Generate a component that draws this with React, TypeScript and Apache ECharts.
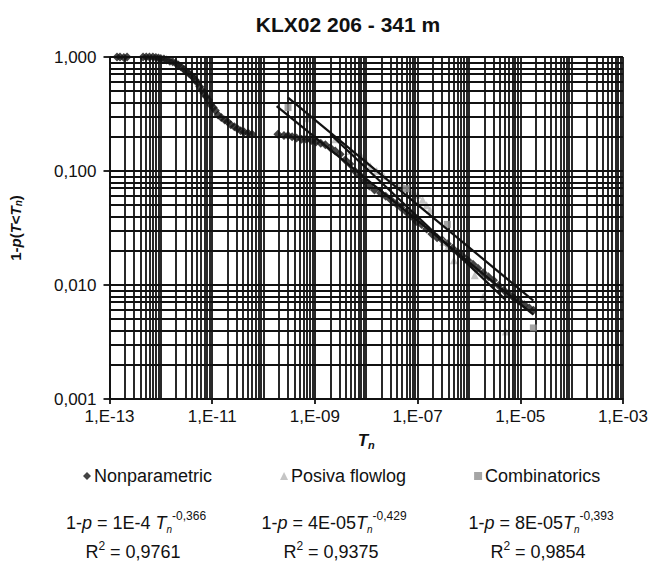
import React, { useEffect, useRef } from 'react';
import * as echarts from 'echarts';

const FONT = '"Liberation Sans", Arial, Helvetica, sans-serif';

// Axis ranges (exponents of ten)
const xExpMin = -13;
const xExpMax = -3;
const yExpMin = -3;
const yExpMax = 0;

const titleText = 'KLX02 206 - 341 m';

// Nonparametric (black diamonds): [Tn, 1-p]
const nonparametric: [number, number][] = [
  [1.4e-13, 1.0], [1.6e-13, 1.0], [1.9e-13, 0.99], [2.2e-13, 1.0],
  [4.5e-13, 1.0], [5.2e-13, 1.0], [6e-13, 1.0], [7e-13, 1.0], [8e-13, 0.99], [9e-13, 0.98],
  [1.0e-12, 0.97], [1.15e-12, 0.96], [1.3e-12, 0.94], [1.5e-12, 0.92], [1.7e-12, 0.91],
  [1.95e-12, 0.88], [2.2e-12, 0.85], [2.45e-12, 0.82], [2.8e-12, 0.78], [3.1e-12, 0.75],
  [3.5e-12, 0.72], [3.9e-12, 0.69], [4.3e-12, 0.66], [4.7e-12, 0.63], [5.2e-12, 0.59],
  [5.7e-12, 0.55], [6.3e-12, 0.51], [6.9e-12, 0.48], [7.6e-12, 0.45], [8.5e-12, 0.42],
  [9.4e-12, 0.38], [1.05e-11, 0.36], [1.15e-11, 0.34], [1.3e-11, 0.31], [1.5e-11, 0.295],
  [1.75e-11, 0.28], [2.0e-11, 0.27], [2.3e-11, 0.255], [2.7e-11, 0.245], [3.1e-11, 0.235],
  [3.6e-11, 0.225], [4.2e-11, 0.22], [5e-11, 0.215], [6e-11, 0.21],
  [1.9e-10, 0.21], [2.5e-10, 0.205], [3e-10, 0.205], [3.6e-10, 0.2], [4.4e-10, 0.195],
  [5.5e-10, 0.19], [6.8e-10, 0.19], [8.5e-10, 0.185], [1.05e-9, 0.18], [1.3e-9, 0.175],
  [1.6e-9, 0.17], [2.0e-9, 0.16], [2.5e-9, 0.15], [3.1e-9, 0.14], [3.9e-9, 0.125],
  [4.8e-9, 0.115], [6e-9, 0.1], [7.5e-9, 0.092], [9.3e-9, 0.082], [1.15e-8, 0.074],
  [1.45e-8, 0.068], [1.9e-8, 0.064], [2.4e-8, 0.06], [3e-8, 0.056], [3.8e-8, 0.052],
  [4.7e-8, 0.048], [6e-8, 0.044], [7.5e-8, 0.04], [9.5e-8, 0.036], [1.2e-7, 0.034],
  [1.5e-7, 0.031], [1.9e-7, 0.028], [2.4e-7, 0.026], [3e-7, 0.025], [3.8e-7, 0.023],
  [4.8e-7, 0.021], [6e-7, 0.0195], [7.5e-7, 0.018], [9.5e-7, 0.0165], [1.2e-6, 0.0152],
  [1.5e-6, 0.014], [1.9e-6, 0.0128], [2.4e-6, 0.0118], [3e-6, 0.011], [3.8e-6, 0.0099],
  [4.8e-6, 0.009], [6e-6, 0.0083], [7.5e-6, 0.0077], [9.5e-6, 0.0072], [1.2e-5, 0.0067],
  [1.5e-5, 0.0063], [1.8e-5, 0.006],
];

// Posiva flowlog (light grey triangles)
const posivaFlowlog: [number, number][] = [
  [7.0e-10, 0.29], [2.5e-9, 0.19], [5e-9, 0.15], [8e-9, 0.135], [1.0e-8, 0.12],
  [1.2e-8, 0.11], [1.6e-8, 0.1], [2.2e-8, 0.09], [3.0e-8, 0.083], [4.0e-8, 0.078],
  [5.2e-8, 0.075], [6.5e-8, 0.07], [8e-8, 0.066], [1.0e-7, 0.062], [1.25e-7, 0.056],
  [1.5e-7, 0.05], [1.75e-7, 0.0455], [3.2e-7, 0.024], [3.8e-7, 0.021], [5.1e-7, 0.0165],
  [1.3e-6, 0.0122], [1.9e-6, 0.0079], [5.2e-6, 0.0039],
];

// Combinatorics (mid grey squares)
const combinatorics: [number, number][] = [
  [3.0e-10, 0.36], [6e-8, 0.07], [3.8e-7, 0.034], [1.8e-5, 0.0042],
];

// Power-law trend lines (end points)
const fitNonparametric: [number, number][] = [[1.8e-10, 0.37], [1.8e-5, 0.0055]];
const fitPosiva: [number, number][] = [[2.0e-9, 0.21], [5.2e-6, 0.0074]];
const fitCombinatorics: [number, number][] = [[3.0e-10, 0.44], [1.8e-5, 0.0073]];

const legendNames = ['Nonparametric', 'Posiva flowlog', 'Combinatorics'];

const equations = [
  { exp: '-0,366', coef: '1E-4 ', r2: '0,9761' },
  { exp: '-0,429', coef: '4E-05', r2: '0,9375' },
  { exp: '-0,393', coef: '8E-05', r2: '0,9854' },
];

const toLog = (d: [number, number][]) => d.map(([x, y]) => [Math.log10(x), Math.log10(y)]);

function gridValues(minExp: number, maxExp: number): number[] {
  const out: number[] = [];
  for (let e = minExp; e < maxExp; e++) {
    for (let k = 1; k <= 9; k++) out.push(e + Math.log10(k));
  }
  out.push(maxExp);
  return out;
}

export default function App() {
  const ref = useRef<HTMLDivElement>(null);
  useEffect(() => {
    if (!ref.current) return;
    const chart = echarts.init(ref.current, undefined, { renderer: 'svg' });

    const gridLineStyle = { color: '#111111', width: 1.8, type: 'solid' as const };
    const markData: any[] = [];
    gridValues(xExpMin, xExpMax).forEach((v) => markData.push({ xAxis: v }));
    gridValues(yExpMin, yExpMax).forEach((v) => markData.push({ yAxis: v }));

    const eqCenters = [136, 334, 541];
    const eqGraphics: any[] = [];
    equations.forEach((eq, i) => {
      eqGraphics.push({
        type: 'text',
        x: eqCenters[i],
        y: 523,
        style: {
          text: `{n|1-}{i|p}{n| = ${eq.coef}}{i|T}{sub|n}{sup|${eq.exp}}`,
          align: 'center',
          verticalAlign: 'middle',
          fill: '#111',
          rich: {
            n: { fontFamily: FONT, fontSize: 18, lineHeight: 26, verticalAlign: 'middle' },
            i: { fontFamily: FONT, fontSize: 18, fontStyle: 'italic', lineHeight: 26, verticalAlign: 'middle' },
            sub: { fontFamily: FONT, fontSize: 10, fontStyle: 'italic', lineHeight: 26, verticalAlign: 'bottom', padding: [0, 0, 2, 0] },
            sup: { fontFamily: FONT, fontSize: 12, lineHeight: 26, verticalAlign: 'top' },
          },
        },
      });
      eqGraphics.push({
        type: 'text',
        x: eqCenters[i] - 3,
        y: 552,
        style: {
          text: `{n|R}{sup|2}{n| = ${eq.r2}}`,
          align: 'center',
          verticalAlign: 'middle',
          fill: '#111',
          rich: {
            n: { fontFamily: FONT, fontSize: 18, lineHeight: 24, verticalAlign: 'middle' },
            sup: { fontFamily: FONT, fontSize: 12, lineHeight: 24, verticalAlign: 'top' },
          },
        },
      });
    });

    const option: any = {
      animation: false,
      backgroundColor: '#ffffff',
      textStyle: { fontFamily: FONT },
      grid: { left: 102, right: 23, top: 57, bottom: 173, containLabel: false },
      legend: {
        data: [
          { name: legendNames[0], icon: 'diamond' },
          { name: legendNames[1], icon: 'triangle' },
          { name: legendNames[2], icon: 'rect' },
        ],
        left: 78,
        top: 462,
        itemWidth: 8,
        itemHeight: 8,
        itemGap: 68,
        textStyle: { fontFamily: FONT, fontSize: 18, color: '#111', padding: [0, 0, 0, -2] },
      },
      xAxis: {
        type: 'value',
        min: xExpMin,
        max: xExpMax,
        interval: 2,
        name: '{t|T}{s|n}',
        nameLocation: 'middle',
        nameGap: 32,
        nameTextStyle: {
          rich: {
            t: { fontFamily: FONT, fontSize: 17, fontWeight: 'bold', fontStyle: 'italic', color: '#111' },
            s: { fontFamily: FONT, fontSize: 11, fontWeight: 'bold', fontStyle: 'italic', color: '#111', padding: [8, 0, 0, 0] },
          },
        },
        axisLine: { show: true, onZero: false, lineStyle: { color: '#111', width: 1.8 } },
        axisTick: { show: true, inside: false, length: 5, lineStyle: { color: '#111', width: 1.8 } },
        splitLine: { show: false },
        axisLabel: {
          fontFamily: FONT,
          fontSize: 17,
          color: '#111',
          margin: 9,
          formatter: (v: number) => '1,E' + (v < 0 ? '-' : '+') + String(Math.abs(Math.round(v))).padStart(2, '0'),
        },
      },
      yAxis: {
        type: 'value',
        min: yExpMin,
        max: yExpMax,
        interval: 1,
        name: '{b|1-}{bi|p}{b|(}{bi|T}{b|<}{bi|T}{s|n}{b|)}',
        nameLocation: 'middle',
        nameGap: 86,
        nameRotate: 90,
        nameTextStyle: {
          rich: {
            b: { fontFamily: FONT, fontSize: 15, fontWeight: 'bold', color: '#111' },
            bi: { fontFamily: FONT, fontSize: 15, fontWeight: 'bold', fontStyle: 'italic', color: '#111' },
            s: { fontFamily: FONT, fontSize: 10, fontWeight: 'bold', fontStyle: 'italic', color: '#111', padding: [6, 0, 0, 0] },
          },
        },
        axisLine: { show: true, onZero: false, lineStyle: { color: '#111', width: 1.8 } },
        axisTick: { show: true, inside: false, length: 6, lineStyle: { color: '#111', width: 1.8 } },
        splitLine: { show: false },
        axisLabel: {
          fontFamily: FONT,
          fontSize: 17,
          color: '#111',
          margin: 13,
          formatter: (v: number) => Math.pow(10, v).toFixed(3).replace('.', ','),
        },
      },
      series: [
        {
          name: '__grid',
          type: 'line',
          data: [],
          silent: true,
          z: 1,
          markLine: {
            silent: true,
            symbol: ['none', 'none'],
            label: { show: false },
            lineStyle: gridLineStyle,
            emphasis: { disabled: true },
            data: markData,
            animation: false,
          },
        },
        {
          name: legendNames[0],
          type: 'scatter',
          symbol: 'diamond',
          symbolSize: 9,
          itemStyle: { color: '#141414' },
          data: toLog(nonparametric),
          z: 3,
        },
        {
          name: legendNames[1],
          type: 'scatter',
          symbol: 'triangle',
          symbolSize: 8,
          itemStyle: { color: '#b6b6b6' },
          data: toLog(posivaFlowlog),
          z: 4,
        },
        {
          name: legendNames[2],
          type: 'scatter',
          symbol: 'rect',
          symbolSize: 7,
          itemStyle: { color: '#8e8e8e' },
          data: toLog(combinatorics),
          z: 5,
        },
        {
          name: 'fitNonparametric',
          type: 'line',
          data: toLog(fitNonparametric),
          symbol: 'none',
          lineStyle: { color: '#111', width: 2.2 },
          z: 6,
        },
        {
          name: 'fitPosiva',
          type: 'line',
          data: toLog(fitPosiva),
          symbol: 'none',
          lineStyle: { color: '#111', width: 2.2 },
          z: 6,
        },
        {
          name: 'fitCombinatorics',
          type: 'line',
          data: toLog(fitCombinatorics),
          symbol: 'none',
          lineStyle: { color: '#111', width: 2.2 },
          z: 6,
        },
      ],
      graphic: [
        {
          type: 'text',
          x: 348,
          y: 24,
          style: {
            text: titleText,
            align: 'center',
            verticalAlign: 'middle',
            fontFamily: FONT,
            fontSize: 21,
            fontWeight: 'bold',
            fill: '#111',
          },
        },
        ...eqGraphics,
      ],
    };
    chart.setOption(option);
    return () => chart.dispose();
  }, []);

  return <div ref={ref} style={{ width: 651, height: 572, position: 'absolute', left: 0, top: 0 }} />;
}
